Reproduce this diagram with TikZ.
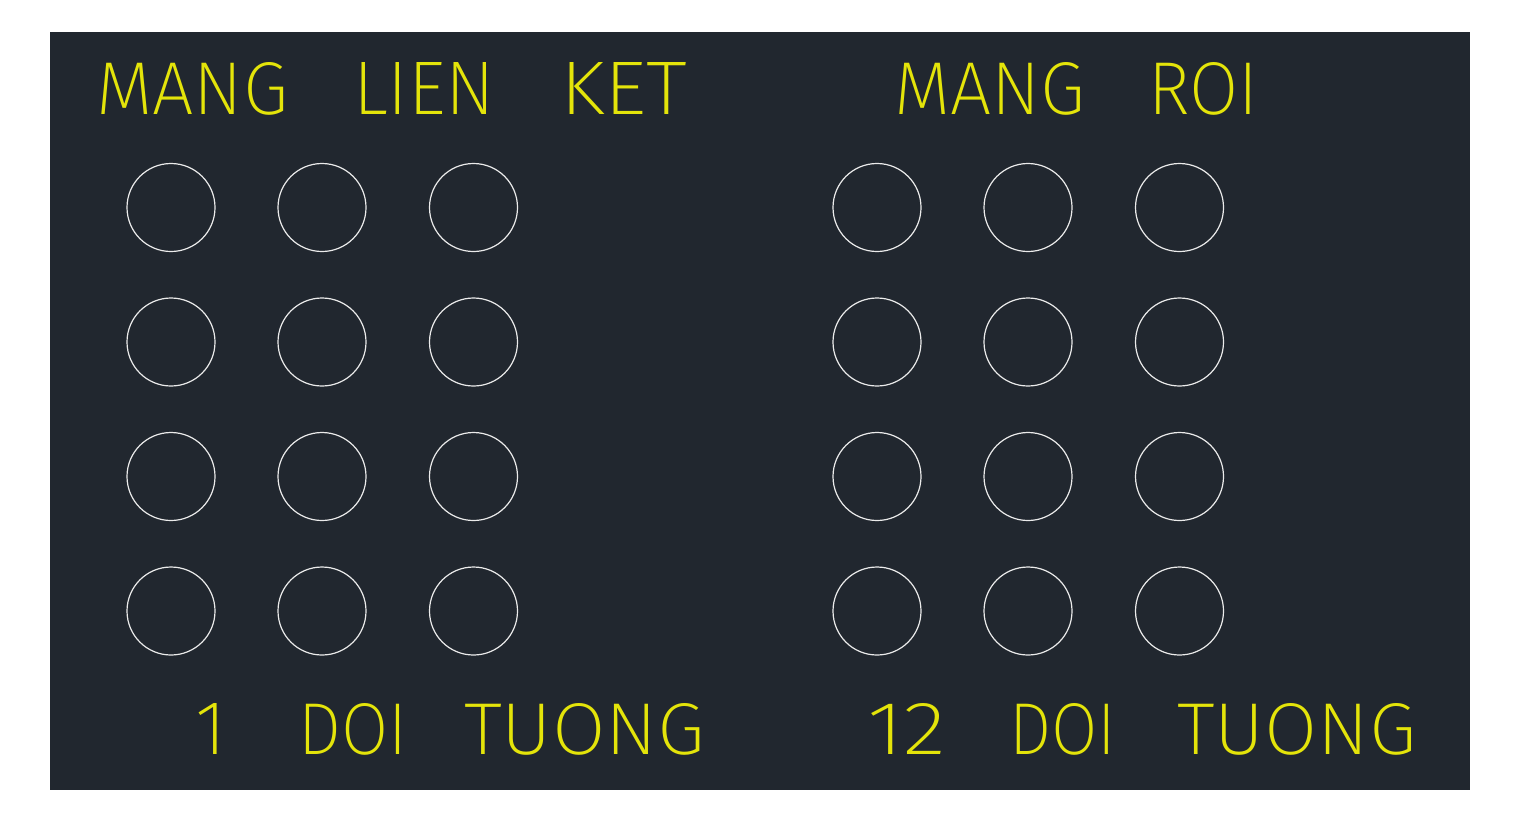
\documentclass[tikz,border=0pt]{standalone}
\usepackage{fontspec}
\setmainfont{Fira Sans ExtraLight}
\definecolor{bg}{RGB}{33,39,47}
\definecolor{cadyellow}{RGB}{228,228,10}
\definecolor{cadwhite}{RGB}{235,235,235}
\newcommand\cadword[3]{\resizebox{#1pt}{#2pt}{#3}}
\begin{document}
\begin{tikzpicture}[x=1pt,y=-1pt,
  circ/.style={circle,draw=cadwhite,line width=1.2pt,minimum size=88pt,inner sep=0pt},
  lbl/.style={text=cadyellow,inner sep=0pt,anchor=base west}]
\useasboundingbox (0,0) rectangle (1520,823);
\fill[white] (0,0) rectangle (1520,823);
\fill[bg] (50,32) rectangle (1470,790);
% circles
\foreach \r/\yy in {1/207.5,2/342,3/476.5,4/611}{
  \foreach \c/\xx in {1/171,2/322,3/473.5}{
    \node[circ] (l-\r-\c) at (\xx,\yy) {};
  }
  \foreach \c/\xx in {1/877,2/1028,3/1179.5}{
    \node[circ] (r-\r-\c) at (\xx,\yy) {};
  }
}
% titles
\node[lbl] (t1a) at (96,114) {\cadword{192}{52}{MANG}};
\node[lbl] (t1b) at (353,114) {\cadword{142}{52}{LIEN}};
\node[lbl] (t1c) at (560,114) {\cadword{127}{52}{KET}};
\node[lbl] (t2a) at (894,114) {\cadword{191}{52}{MANG}};
\node[lbl] (t2b) at (1148,114) {\cadword{110}{52}{ROI}};
% bottom labels
\node[text=cadyellow,inner sep=0pt,anchor=base] (b1a) at (211,754) {\resizebox{!}{51pt}{1}};
\node[lbl] (b1b) at (298,754) {\cadword{109}{51}{DOI}};
\node[lbl] (b1c) at (464,754) {\cadword{241}{51}{TUONG}};
\node[lbl] (b2a) at (867,754) {\cadword{79}{51}{12}};
\node[lbl] (b2b) at (1009,754) {\cadword{107}{51}{DOI}};
\node[lbl] (b2c) at (1177,754) {\cadword{239}{51}{TUONG}};
\end{tikzpicture}
\end{document}
